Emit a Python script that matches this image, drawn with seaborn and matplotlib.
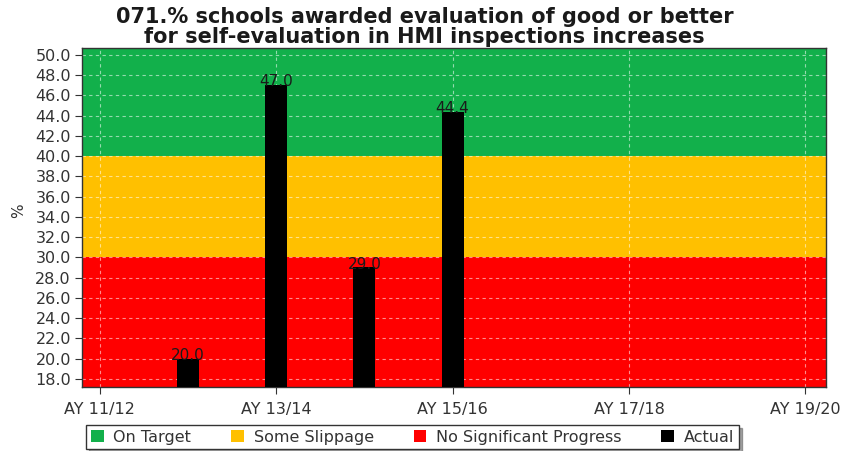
import matplotlib
matplotlib.use("Agg")
import matplotlib.pyplot as plt
from matplotlib.patches import Patch
import seaborn as sns
import pandas as pd

# Academic years on the axis and the measured values
years = ["AY 11/12", "AY 12/13", "AY 13/14", "AY 14/15", "AY 15/16",
         "AY 16/17", "AY 17/18", "AY 18/19", "AY 19/20"]
actual_years = ["AY 12/13", "AY 13/14", "AY 14/15", "AY 15/16"]
actual_values = [20.0, 47.0, 29.0, 44.4]
tick_years = ["AY 11/12", "AY 13/14", "AY 15/16", "AY 17/18", "AY 19/20"]

# RAG thresholds
red_upper = 30.0
amber_upper = 40.0

green = "#12B04B"
amber = "#FFC000"
red = "#FF0000"
text_col = "#333333"

sns.set_theme(style="white")
plt.rcParams["font.family"] = ["DejaVu Sans"]

fig = plt.figure(figsize=(8.49, 4.51), dpi=100)
ax = fig.add_axes([0.0966, 0.142, 0.876, 0.752])

ymin, ymax = 17.2, 50.7
ax.axhspan(ymin - 5, red_upper, color=red, zorder=0, lw=0)
ax.axhspan(red_upper, amber_upper, color=amber, zorder=0, lw=0)
ax.axhspan(amber_upper, ymax + 5, color=green, zorder=0, lw=0)

df = pd.DataFrame({"year": actual_years, "value": actual_values})
sns.barplot(data=df, x="year", y="value", order=years, color="black",
            saturation=1, width=0.25, ax=ax, zorder=3, edgecolor="black",
            linewidth=0)

for cont in ax.containers:
    ax.bar_label(cont, labels=[f"{v:.1f}" for v in actual_values],
                 padding=-3, fontsize=11, color="#1a1a1a", zorder=4)

# dashed grid
ax.grid(False)
yt = [18 + 2 * i for i in range(17)]
for y in yt:
    ax.axhline(y, color="white", lw=0.8, ls=(0, (3, 3)), alpha=0.55, zorder=1)
tick_pos = [years.index(t) for t in tick_years]
for x in tick_pos:
    ax.axvline(x, color="white", lw=0.8, ls=(0, (3, 3)), alpha=0.55, zorder=1)

ax.set_ylim(ymin, ymax)
ax.set_xlim(-0.2, 8.23)
ax.set_yticks(yt)
ax.set_yticklabels([f"{y:.1f}" for y in yt])
ax.set_xticks(tick_pos)
ax.set_xticklabels(tick_years)
ax.tick_params(axis="both", labelsize=11.5, colors=text_col, length=5,
               width=0.8, direction="out", pad=3, bottom=True, left=True)
ax.tick_params(axis="x", pad=6)
for lab in ax.get_xticklabels() + ax.get_yticklabels():
    lab.set_color(text_col)
ax.set_xlabel("")
ax.set_ylabel("%", fontsize=11, color=text_col)
ax.yaxis.set_label_coords(-0.075, 0.52)
for s in ax.spines.values():
    s.set_visible(True)
    s.set_color("#333333")
    s.set_linewidth(1.0)

fig.suptitle("071.% schools awarded evaluation of good or better\n"
             "for self-evaluation in HMI inspections increases",
             fontsize=15, fontweight="bold", family="DejaVu Sans",
             y=0.985, linespacing=1.0, color="#1a1a1a")

handles = [Patch(facecolor=green, edgecolor="none", label="On Target"),
           Patch(facecolor=amber, edgecolor="none", label="Some Slippage"),
           Patch(facecolor=red, edgecolor="none", label="No Significant Progress"),
           Patch(facecolor="black", edgecolor="none", label="Actual")]
leg = fig.legend(handles=handles, loc="center", bbox_to_anchor=(0.486, 0.031),
                 ncol=4, frameon=True, fancybox=False, shadow=True,
                 fontsize=11.5, handlelength=0.8, handleheight=0.8,
                 handletextpad=0.6, columnspacing=2.5, borderpad=0.3,
                 edgecolor="#333333", borderaxespad=0)
leg.get_frame().set_linewidth(1.0)
for t in leg.get_texts():
    t.set_color(text_col)

fig.savefig("out.png", dpi=100)
